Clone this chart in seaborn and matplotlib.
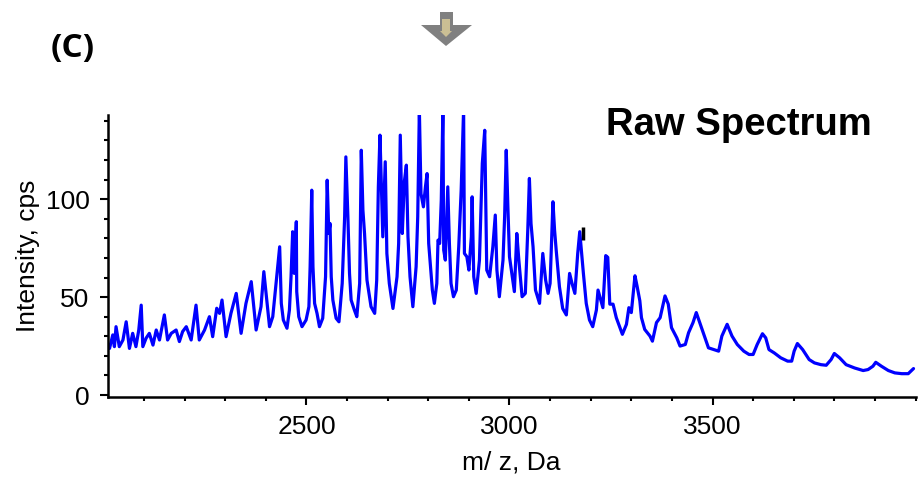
import matplotlib
matplotlib.use('Agg')
import matplotlib.pyplot as plt
import seaborn as sns
from matplotlib.ticker import MultipleLocator, FixedLocator

# spectrum (m/z in Da, intensity in cps)
mz = [2010, 2015, 2023, 2027, 2031, 2039, 2048, 2056, 2064, 2072, 2080, 2087, 2093, 2097,
      2105, 2113, 2122, 2130, 2138, 2150, 2158, 2167, 2179, 2187, 2195, 2204, 2216, 2228,
      2236, 2249, 2261, 2269, 2279, 2286, 2292, 2302, 2314, 2327, 2339, 2351, 2364, 2376,
      2388, 2395, 2409, 2417, 2429,
      2434, 2438, 2443, 2452, 2458, 2462, 2466, 2470, 2475, 2476, 2481, 2489, 2499, 2506,
      2509, 2513, 2516, 2520, 2526, 2532, 2540, 2547, 2551, 2555, 2558, 2561, 2565, 2573,
      2580, 2588, 2594, 2597, 2602, 2606, 2610, 2618, 2624, 2631, 2635, 2639, 2643, 2649,
      2659, 2668, 2673, 2677, 2681, 2688, 2694, 2698, 2704, 2713, 2723, 2727, 2731, 2736,
      2741, 2746, 2750, 2755, 2762, 2770, 2774, 2778, 2782, 2788, 2793, 2797, 2801, 2810,
      2815, 2821, 2824, 2828, 2832, 2836, 2838, 2842, 2848, 2852, 2856, 2862, 2869, 2875,
      2881, 2887, 2889, 2895, 2900, 2906, 2908, 2912, 2918, 2926, 2933, 2939, 2944, 2951,
      2959, 2965, 2969, 2975, 2984, 2988, 2992, 2996, 3000, 3007, 3012, 3018, 3023, 3031,
      3039, 3045, 3049, 3053, 3058, 3064, 3074, 3082, 3089, 3095, 3100, 3107, 3111, 3115,
      3123, 3131, 3140, 3148, 3154, 3161, 3168, 3173, 3177, 3182, 3189, 3197, 3205, 3214,
      3218,
      3230, 3237, 3242, 3247, 3255, 3263, 3278, 3288, 3294, 3300, 3309, 3314, 3321, 3325,
      3333, 3346, 3352, 3362, 3371, 3383, 3391, 3399, 3412, 3420, 3433, 3441, 3452, 3460,
      3470, 3480, 3490, 3503, 3515, 3523, 3536, 3548, 3561, 3577, 3590, 3600, 3610, 3623,
      3631, 3639, 3652, 3668, 3685, 3695, 3701, 3709, 3722, 3738, 3751, 3767, 3780, 3792,
      3800, 3813, 3829, 3850, 3871, 3883, 3895, 3902, 3916, 3933, 3949, 3966, 3982, 3995]
intensity = [26.0, 23.8, 30.7, 24.7, 34.9, 24.7, 28.1, 37.4, 23.8, 31.5, 24.7, 33.2, 45.9, 24.7,
             29.0, 31.5, 25.5, 33.2, 28.1, 40.9, 28.1, 31.5, 33.2, 27.3, 32.4, 34.9, 28.1, 45.9,
             28.1, 33.2, 40.0, 29.8, 44.3, 41.7, 48.5, 29.8, 41.7, 51.9, 31.5, 46.8, 57.9, 33.2,
             45.1, 63.0, 34.9, 40.0, 65.5,
             75.7, 46.8, 38.3, 34.1, 43.4, 60.4, 83.4, 62.1, 88.5, 52.8, 40.0, 34.9, 38.3, 45.1,
             65.5, 104.6, 65.5, 46.8, 41.7, 34.9, 39.2, 60.4, 109.7, 82.5, 87.6, 60.4, 48.5, 39.2,
             37.4, 57.0, 91.0, 121.6, 91.0, 62.1, 48.5, 43.4, 40.0, 57.0, 125.0, 94.4, 82.5, 58.7,
             45.1, 41.7, 58.7, 106.3, 132.7, 80.8, 119.1, 72.3, 57.0, 44.2, 60.4, 77.4, 132.7, 82.5,
             108.9, 117.4, 80.8, 60.4, 45.1, 65.5, 91.0, 146.0, 102.9, 96.1, 106.3, 113.1, 77.4, 53.6,
             46.8, 57.0, 79.1, 77.4, 99.5, 146.0, 74.0, 68.9, 106.3, 77.4, 57.0, 50.2, 53.6, 75.7,
             104.6, 146.0, 72.3, 70.6, 63.8, 80.8, 101.2, 60.4, 51.9, 68.9, 118.2, 135.2, 63.8, 60.4,
             75.7, 91.9, 63.8, 50.2, 68.9, 91.0, 125.0, 96.1, 70.6, 60.4, 52.8, 82.5, 68.9, 50.2,
             51.9, 84.2, 110.6, 87.6, 75.7, 53.6, 46.8, 72.3, 58.7, 51.9, 57.0, 98.7, 84.2, 74.0,
             55.3, 44.2, 40.9, 62.1, 57.0, 51.9, 72.3, 83.4, 74.0, 62.1, 46.8, 38.3, 34.9, 43.4,
             53.6,
             44.6, 71.2, 70.3, 46.4, 46.4, 39.5, 31.0, 36.1, 44.6, 42.1, 60.9, 55.8, 48.1, 39.5,
             33.5, 30.1, 27.5, 37.0, 39.5, 50.6, 46.4, 34.4, 29.2, 25.0, 25.8, 31.8, 37.0, 42.1,
             36.1, 30.1, 24.1, 23.2, 22.4, 30.1, 36.1, 30.1, 25.8, 22.4, 20.7, 20.7, 25.8, 31.3,
             29.2, 23.2, 21.5, 19.0, 17.3, 17.3, 22.4, 26.3, 23.2, 18.1, 16.4, 15.5, 15.2, 18.1,
             21.2, 19.0, 15.5, 13.8, 12.5, 13.0, 14.7, 16.7, 14.7, 12.5, 11.3, 10.9, 10.9, 13.5]

# small black cursor mark on the spectrum
cursor_mz = [3180]
cursor_low = [79]
cursor_high = [86]

x_major = [2500, 3000, 3500]
y_major = [0, 50, 100]

sns.set_style('ticks')
plt.rcParams['font.family'] = ['Liberation Sans', 'DejaVu Sans']
plt.rcParams['text.color'] = 'black'
plt.rcParams['axes.labelcolor'] = 'black'

fig = plt.figure(figsize=(9.22, 4.84), dpi=100)
ax = fig.add_axes([0.1166, 0.1798, 0.8764, 0.5826])

sns.lineplot(x=mz, y=intensity, ax=ax, color='#0000ff', linewidth=2.3,
             sort=False, estimator=None)
ax.vlines(cursor_mz, cursor_low, cursor_high, color='black', linewidth=2.5)

ax.set_xlim(2010, 4000)
ax.set_ylim(-1, 143)
ax.xaxis.set_major_locator(FixedLocator(x_major))
ax.xaxis.set_minor_locator(MultipleLocator(100))
ax.yaxis.set_major_locator(FixedLocator(y_major))
ax.yaxis.set_minor_locator(MultipleLocator(10))
ax.tick_params(which='major', direction='out', length=6, width=1.5,
               labelsize=19, color='black', labelcolor='black')
ax.tick_params(which='minor', direction='out', length=3, width=1.5, color='black')
ax.tick_params(axis='x', which='major', pad=7)
ax.tick_params(axis='y', which='major', pad=7)
for s in ['top', 'right']:
    ax.spines[s].set_visible(False)
for s in ['left', 'bottom']:
    ax.spines[s].set_linewidth(1.8)
    ax.spines[s].set_color('black')

ax.set_xlabel('m/ z, Da', fontsize=19, labelpad=8)
ax.set_ylabel('Intensity, cps', fontsize=19, labelpad=4)

fig.text(606 / 922, 1 - 135 / 484, 'Raw Spectrum', fontsize=27.5, fontweight='bold',
         ha='left', va='baseline')
fig.text(73 / 922, 1 - 48 / 484, '(C)', fontsize=24, fontweight='bold',
         family=['Open Sans', 'DejaVu Sans'], ha='center', va='center')

# grey down arrow above the plot
def fp(pts):
    return [(x / 922, 1 - y / 484) for x, y in pts]

outer = fp([(440, 12), (453, 12), (453, 25), (472, 25), (446, 46), (421, 25), (440, 25)])
inner = fp([(442, 19), (450, 19), (450, 31), (452, 31), (446, 37), (440, 31), (442, 31)])
fig.patches.append(plt.Polygon(outer, closed=True, transform=fig.transFigure,
                               facecolor='#808080', edgecolor='none'))
fig.patches.append(plt.Polygon(inner, closed=True, transform=fig.transFigure,
                               facecolor='#cbbf94', edgecolor='none'))

fig.savefig('out.png', dpi=100)
